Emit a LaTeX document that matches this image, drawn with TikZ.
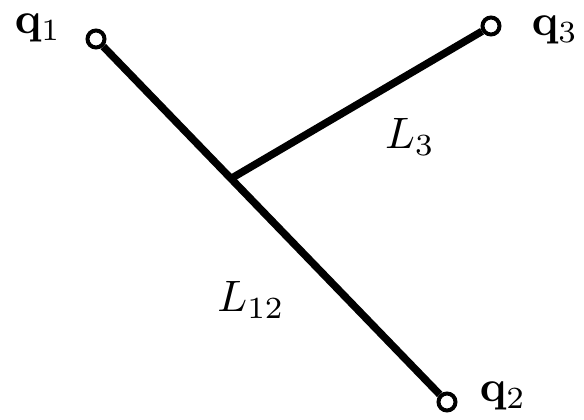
\documentclass[tikz,border=0pt]{standalone}
\usepackage{graphicx}
\usepackage{tikz}
\newcommand{\bigtxt}[1]{\scalebox{4.4}{#1}}
\begin{document}
\begin{tikzpicture}[x=1pt,y=-1pt,
  term/.style={circle,draw=black,line width=4pt,minimum size=17pt,inner sep=0pt},
  rod/.style={line width=7.5pt},
  lab/.style={inner sep=0pt}]
\useasboundingbox (0,0) rectangle (584,420);
\node[term] (q1) at (96,39) {};
\node[term] (q3) at (491,26) {};
\node[term] (q2) at (447,402) {};
\coordinate (j) at (232,178);
\draw[rod] (q1) -- (q2);
\draw[rod] (j) -- (q3);
\node[lab] (t1) at (38,28) {\bigtxt{$\mathbf{q}_{1}$}};
\node[lab] (t3) at (555,30) {\bigtxt{$\mathbf{q}_{3}$}};
\node[lab] (t2) at (503,396) {\bigtxt{$\mathbf{q}_{2}$}};
\node[lab] (l3) at (410,137) {\bigtxt{$L_{3}$}};
\node[lab] (l12) at (251,300) {\bigtxt{$L_{12}$}};
\end{tikzpicture}
\end{document}
